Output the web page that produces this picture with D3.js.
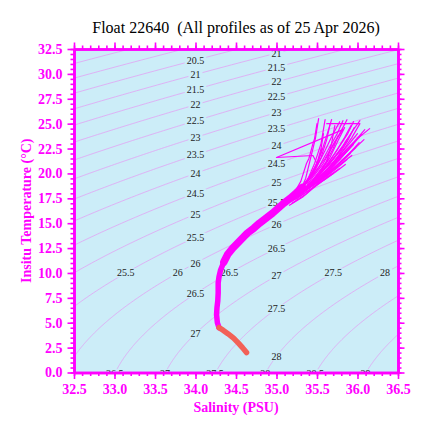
<!DOCTYPE html>
<html><head><meta charset="utf-8">
<script src="https://cdn.jsdelivr.net/npm/d3@7"></script>
<style>
html,body{margin:0;padding:0;background:#fff;}
svg{display:block;}
</style></head>
<body>
<svg id="chart" width="425" height="430"></svg>
<script>
// ---------- data ----------
const titleText = "Float 22640  (All profiles as of 25 Apr 2026)";
const xTitle = "Salinity (PSU)";
const yTitle = "Insitu Temperature (°C)";
const salDomain = [32.5, 36.5];
const tempDomain = [0, 32.5];
const salMajorTicks = [32.5, 33.0, 33.5, 34.0, 34.5, 35.0, 35.5, 36.0, 36.5];
const tempMajorTicks = [0, 2.5, 5, 7.5, 10, 12.5, 15, 17.5, 20, 22.5, 25, 27.5, 30, 32.5];
const contourLevels = [19.5, 20, 20.5, 21, 21.5, 22, 22.5, 23, 23.5, 24, 24.5, 25, 25.5, 26, 26.5, 27, 27.5, 28, 28.5, 29];
// label placement: along salinity columns, along temperature rows
const labelCol1Sal = 34.0;
const labelCol1Levels = [20.5, 21, 21.5, 22, 22.5, 23, 23.5, 24, 24.5, 25, 25.5, 26, 26.5, 27];
const labelCol2Sal = 35.0;
const labelCol2Levels = [21, 21.5, 22, 22.5, 23, 23.5, 24, 24.5, 25, 25.5, 26, 26.5, 27, 27.5, 28];
const labelRowTemp = 10.0;
const labelRowLevels = [25.5, 26, 26.5, 27.5, 28];
const labelBottomTemp = -0.12;
const labelBottomLevels = [26.5, 27, 27.5, 28, 28.5, 29];

// deep part of the profiles (salinity, temperature)
const deepSal  = [34.63, 34.58, 34.53, 34.47, 34.40, 34.34, 34.29];
const deepTemp = [2.0,   2.5,   2.95,  3.45,  3.9,   4.25,  4.5];
// common trunk of all profiles (lower, thinner part)
const trunkLowSal  = [34.29, 34.27, 34.26, 34.265, 34.275, 34.28, 34.28, 34.29, 34.31, 34.35, 34.38];
const trunkLowTemp = [4.5,   5.0,   5.8,   6.5,    7.2,    8.0,   9.0,   9.6,   10.3,  11.1,  11.6];
// upper, wider part of the trunk
const trunkUpSal  = [34.35, 34.40, 34.46, 34.52, 34.58, 34.64, 34.72, 34.79, 34.87, 34.95, 35.02, 35.09, 35.17, 35.24, 35.32];
const trunkUpTemp = [11.1,  11.9,  12.5,  13.0,  13.5,  14.0,  14.5,  15.0,  15.5,  16.0,  16.5,  17.0,  17.5,  18.0,  18.6];
// upper parts of individual profiles: [salinity, temperature] from surface downward
const upperProfiles = [
  [[35.52,25.5],[35.48,23.5],[35.42,21.5],[35.36,19.5],[35.28,18.0]],
  [[35.60,25.4],[35.55,23.0],[35.47,21.0],[35.38,19.3],[35.26,17.8]],
  [[35.68,25.4],[35.62,23.8],[35.55,22.0],[35.45,20.2],[35.30,18.4]],
  [[35.78,25.2],[35.70,24.0],[35.60,22.3],[35.48,20.4],[35.33,18.6]],
  [[35.87,25.4],[35.80,24.3],[35.70,22.8],[35.57,20.9],[35.38,18.9]],
  [[35.95,25.2],[35.88,24.0],[35.76,22.5],[35.60,20.6],[35.40,18.8]],
  [[36.03,25.3],[35.95,24.4],[35.82,22.8],[35.65,20.9],[35.43,19.0]],
  [[36.15,24.5],[36.00,23.5],[35.85,22.3],[35.68,20.8],[35.46,19.1]],
  [[36.09,24.4],[35.96,23.2],[35.80,21.8],[35.62,20.3],[35.40,18.8]],
  [[36.05,23.9],[35.93,22.8],[35.78,21.4],[35.60,19.9],[35.38,18.5]],
  [[35.99,23.4],[35.88,22.3],[35.72,20.9],[35.55,19.5],[35.34,18.2]],
  [[35.95,22.9],[35.83,21.9],[35.68,20.6],[35.50,19.2],[35.31,18.0]],
  [[35.91,22.0],[35.78,21.0],[35.62,19.9],[35.45,18.8],[35.27,17.7]],
  [[35.87,21.4],[35.74,20.5],[35.58,19.5],[35.42,18.4],[35.24,17.4]],
  [[35.78,20.5],[35.65,19.8],[35.50,18.9],[35.36,17.9],[35.19,17.0]],
  [[35.70,20.0],[35.58,19.3],[35.45,18.5],[35.32,17.6],[35.16,16.8]],
  [[35.50,25.0],[35.47,23.5],[35.45,23.0],[35.40,21.5],[35.37,21.0],[35.30,19.2],[35.23,18.2]],
  [[35.62,25.0],[36.03,25.0],[35.93,23.6],[35.78,21.8],[35.58,20.0],[35.36,18.6]],
  [[35.00,21.6],[35.82,24.4],[35.72,23.2],[35.60,21.5],[35.45,19.8],[35.28,18.2]],
  [[35.00,21.6],[35.45,21.8],[35.50,21.0],[35.42,19.8],[35.28,18.3]],
  [[35.72,24.8],[35.68,23.0],[35.62,21.2],[35.50,19.6],[35.33,18.3]],
  [[35.84,24.6],[35.76,23.3],[35.66,21.6],[35.52,19.8],[35.34,18.4]],
  [[35.92,24.8],[35.84,23.6],[35.72,22.0],[35.56,20.1],[35.36,18.5]],
  [[36.00,24.0],[35.90,23.0],[35.76,21.7],[35.58,20.0],[35.37,18.6]],
  [[35.80,22.5],[35.68,21.3],[35.54,20.0],[35.40,18.8],[35.26,17.7]],
  [[35.65,21.5],[35.55,20.4],[35.44,19.3],[35.32,18.2],[35.19,17.2]],
  [[35.56,22.5],[35.52,21.3],[35.44,20.0],[35.34,18.8],[35.23,17.8]],
  [[35.98,22.6],[35.86,21.7],[35.70,20.5],[35.52,19.2],[35.30,18.0]],
  [[36.02,23.1],[35.90,22.0],[35.74,20.8],[35.55,19.5],[35.32,18.2]],
  [[35.93,21.8],[35.80,21.0],[35.64,19.9],[35.47,18.9],[35.26,17.7]],
  [[35.85,20.9],[35.72,20.1],[35.56,19.2],[35.40,18.3],[35.21,17.3]],
  [[35.88,23.5],[35.80,22.4],[35.66,21.0],[35.50,19.6],[35.31,18.2]],
  [[35.76,23.8],[35.70,22.5],[35.60,21.0],[35.47,19.5],[35.29,18.1]],
  [[35.96,24.6],[35.88,23.3],[35.75,21.6],[35.58,19.9],[35.35,18.4]],
  [[35.66,24.9],[35.62,23.4],[35.55,21.6],[35.44,19.8],[35.28,18.2]],
  [[36.08,23.4],[35.95,22.4],[35.80,21.2],[35.62,19.8],[35.38,18.4]],
  [[35.74,21.2],[35.62,20.3],[35.48,19.3],[35.35,18.3],[35.19,17.3]],
  [[35.58,24.0],[35.55,22.5],[35.50,21.0],[35.40,19.5],[35.26,18.0]],
  [[35.82,25.3],[35.75,24.0],[35.64,22.4],[35.52,20.6],[35.34,18.7]]
];

// ---------- physics: EOS-80 one-atmosphere density anomaly ----------
function sigma(S, T) {
  const rw = 999.842594 + 6.793952e-2*T - 9.095290e-3*T*T + 1.001685e-4*T*T*T
           - 1.120083e-6*T*T*T*T + 6.536332e-9*T*T*T*T*T;
  const A = 0.824493 - 4.0899e-3*T + 7.6438e-5*T*T - 8.2467e-7*T*T*T + 5.3875e-9*T*T*T*T;
  const B = -5.72466e-3 + 1.0227e-4*T - 1.6546e-6*T*T;
  const C = 4.8314e-4;
  return rw + A*S + B*Math.pow(S,1.5) + C*S*S - 1000;
}
function solveS(level, T) { let lo = 25, hi = 42; for (let i=0;i<60;i++){ const m=(lo+hi)/2; if (sigma(m,T) < level) lo=m; else hi=m; } return (lo+hi)/2; }
function solveT(level, S) { let lo = -3, hi = 40; for (let i=0;i<60;i++){ const m=(lo+hi)/2; if (sigma(S,m) > level) lo=m; else hi=m; } return (lo+hi)/2; }

// ---------- layout ----------
const svg = d3.select("#chart");
const L = 74, R = 398, Tp = 49, B = 372.5;
const x = d3.scaleLinear().domain(salDomain).range([L, R]);
const y = d3.scaleLinear().domain(tempDomain).range([B, Tp]);
const MAG = "#ff00ff";
const BG = "#ccedf8";
const CONT = "#e2a2f4";

svg.append("defs").append("clipPath").attr("id","plotclip")
  .append("rect").attr("x",L).attr("y",Tp).attr("width",R-L).attr("height",B-Tp);

svg.append("rect").attr("x",L).attr("y",Tp).attr("width",R-L).attr("height",B-Tp).attr("fill",BG);

const plot = svg.append("g").attr("clip-path","url(#plotclip)");

// contour lines
const tSamples = d3.range(-2, 35.01, 0.1);
const line = d3.line().x(d=>x(d[0])).y(d=>y(d[1]));
plot.append("g").selectAll("path").data(contourLevels).join("path")
  .attr("d", lev => line(tSamples.map(t => [solveS(lev,t), t])))
  .attr("fill","none").attr("stroke",CONT).attr("stroke-width",0.8);

// contour labels
const labels = [];
labelCol1Levels.forEach(l => labels.push({lev:l, S:labelCol1Sal, T:solveT(l,labelCol1Sal)}));
labelCol2Levels.forEach(l => labels.push({lev:l, S:labelCol2Sal, T:solveT(l,labelCol2Sal)}));
labelRowLevels.forEach(l => labels.push({lev:l, S:solveS(l,labelRowTemp), T:labelRowTemp}));
labelBottomLevels.forEach(l => labels.push({lev:l, S:solveS(l,labelBottomTemp), T:labelBottomTemp}));
const lg = plot.append("g").selectAll("g").data(labels).join("g")
  .attr("transform", d => `translate(${x(d.S)},${y(d.T)})`);
lg.append("rect").attr("fill",BG).attr("y",-4.5).attr("height",9);
lg.append("text").text(d => String(d.lev))
  .attr("text-anchor","middle").attr("dy","0.35em")
  .attr("font-family","'Liberation Serif', 'DejaVu Serif', serif").attr("font-size",10).attr("fill","#222");
lg.each(function(){
  const g = d3.select(this); const w = g.select("text").node().getComputedTextLength();
  g.select("rect").attr("x",-w/2-2).attr("width",w+4);
});

// profiles
const deep = deepSal.map((s,i)=>[s, deepTemp[i]]);
const trunkLow = trunkLowSal.map((s,i)=>[s, trunkLowTemp[i]]);
const trunkUp = trunkUpSal.map((s,i)=>[s, trunkUpTemp[i]]);
const pg = plot.append("g").attr("fill","none").attr("stroke-linejoin","round").attr("stroke-linecap","round");
pg.selectAll("path.up").data(upperProfiles).join("path").attr("class","up")
  .attr("d", line).attr("stroke",MAG).attr("stroke-width",1.2);
pg.append("path").attr("d", line(trunkLow)).attr("stroke",MAG).attr("stroke-width",5.5);
pg.append("path").attr("d", line(trunkUp)).attr("stroke",MAG).attr("stroke-width",7.5);
pg.append("path").attr("d", line(deep)).attr("stroke","#f26157").attr("stroke-width",5.5);

// ---------- axes ----------
const fmt = d3.format(".1f");
const salMinor = d3.range(32.5, 36.501, 0.1).map(v=>+v.toFixed(2));
const tempMinor = d3.range(0, 32.501, 0.5);
const axFont = "'Liberation Serif', 'Times New Roman', serif";
function styleAxis(g){
  g.select(".domain").attr("stroke",MAG).attr("stroke-width",2.6);
  g.selectAll(".tick line").attr("stroke",MAG).attr("stroke-width",1.6);
  g.selectAll(".tick text").attr("fill",MAG).attr("font-family",axFont).attr("font-size",14).attr("font-weight","bold");
}
// bottom
svg.append("g").attr("transform",`translate(0,${B})`).call(d3.axisBottom(x).tickValues(salMinor).tickSize(3.5).tickSizeOuter(0).tickFormat("")).call(styleAxis);
svg.append("g").attr("transform",`translate(0,${B})`).call(d3.axisBottom(x).tickValues(salMajorTicks).tickSize(6.5).tickSizeOuter(0).tickPadding(5).tickFormat(fmt)).call(styleAxis);
// top
svg.append("g").attr("transform",`translate(0,${Tp})`).call(d3.axisTop(x).tickValues(salMinor).tickSize(3.5).tickSizeOuter(0).tickFormat("")).call(styleAxis);
svg.append("g").attr("transform",`translate(0,${Tp})`).call(d3.axisTop(x).tickValues(salMajorTicks).tickSize(6.5).tickSizeOuter(0).tickFormat("")).call(styleAxis);
// left
svg.append("g").attr("transform",`translate(${L},0)`).call(d3.axisLeft(y).tickValues(tempMinor).tickSize(3.5).tickSizeOuter(0).tickFormat("")).call(styleAxis);
svg.append("g").attr("transform",`translate(${L},0)`).call(d3.axisLeft(y).tickValues(tempMajorTicks).tickSize(6.5).tickSizeOuter(0).tickPadding(5).tickFormat(fmt)).call(styleAxis);
// right
svg.append("g").attr("transform",`translate(${R},0)`).call(d3.axisRight(y).tickValues(tempMinor).tickSize(3.5).tickSizeOuter(0).tickFormat("")).call(styleAxis);
svg.append("g").attr("transform",`translate(${R},0)`).call(d3.axisRight(y).tickValues(tempMajorTicks).tickSize(6.5).tickSizeOuter(0).tickFormat("")).call(styleAxis);

// titles
svg.append("text").attr("x",236).attr("y",32.5).attr("text-anchor","middle")
  .style("white-space","pre")
  .attr("font-family",axFont).attr("font-size",16).attr("fill","#000").text(titleText);
svg.append("text").attr("x",236).attr("y",411.5).attr("text-anchor","middle")
  .attr("font-family",axFont).attr("font-size",14).attr("font-weight","bold").attr("fill",MAG).text(xTitle);
svg.append("text").attr("transform",`translate(30.5,${(Tp+B)/2}) rotate(-90)`).attr("text-anchor","middle")
  .attr("font-family",axFont).attr("font-size",14).attr("font-weight","bold").attr("fill",MAG).text(yTitle);
</script>
</body></html>
